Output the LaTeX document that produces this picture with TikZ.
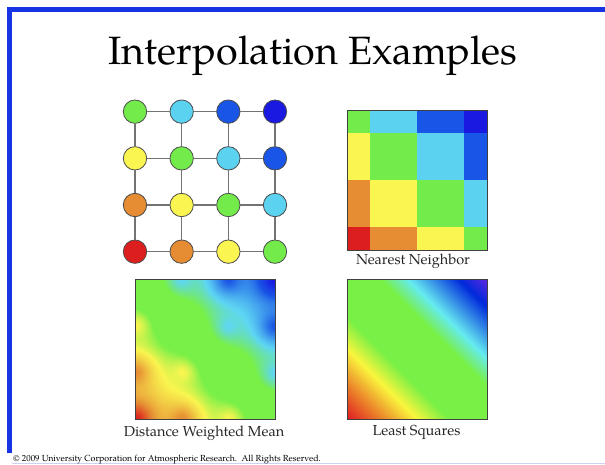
\documentclass[tikz,border=0pt]{standalone}
\usepackage{fontspec}
\setmainfont{TeX Gyre Pagella}
\definecolor{frameblue}{RGB}{22,52,228}
\definecolor{framelight}{RGB}{205,210,245}
\definecolor{k0}{HTML}{DC1E1E}
\definecolor{k1}{HTML}{E68C32}
\definecolor{k2}{HTML}{FAF550}
\definecolor{k3}{HTML}{73EB4B}
\definecolor{k4}{HTML}{5AD2F0}
\definecolor{k5}{HTML}{1955E6}
\definecolor{k6}{HTML}{1919E1}
% inverse distance weighted term: c r S T -> c r S' T'
\def\idwterm#1#2#3{3 index #1 sub dup mul 3 index #2 sub dup mul add 0.000001 add 0.9 exp 1 exch div dup #3 mul 3 -1 roll add 3 1 roll add exch }
\pgfdeclarefunctionalshading{idw}{\pgfpointorigin}{\pgfpoint{100bp}{100bp}}{}{
  75 exch sub 0.06 mul exch 25 sub 0.06 mul exch
  0 0
  \idwterm{0}{0}{3}\idwterm{1}{0}{4}\idwterm{2}{0}{5}\idwterm{3}{0}{6}
  \idwterm{0}{1}{2}\idwterm{1}{1}{3}\idwterm{2}{1}{4}\idwterm{3}{1}{5}
  \idwterm{0}{2}{1}\idwterm{1}{2}{2}\idwterm{2}{2}{3}\idwterm{3}{2}{4}
  \idwterm{0}{3}{0}\idwterm{1}{3}{1}\idwterm{2}{3}{2}\idwterm{3}{3}{3}
  exch div 3 1 roll pop pop
  dup 2.5 lt {
    dup 1 lt { dup 0.04 mul 0.86 add exch dup 0.43 mul 0.12 add exch 0.08 mul 0.12 add }
    { dup 2 lt { 1 sub dup 0.08 mul 0.90 add exch dup 0.41 mul 0.55 add exch 0.11 mul 0.20 add }
      { 2 sub 2 mul dup -0.51 mul 0.98 add exch dup -0.02 mul 0.96 add exch -0.03 mul 0.31 add } ifelse } ifelse
  } {
    dup 3.45 lt { pop 0.47 0.94 0.28 }
    { dup 4 lt { 3.45 sub 1.8182 mul dup -0.10 mul 0.47 add exch dup -0.10 mul 0.94 add exch 0.67 mul 0.28 add }
      { dup 5 lt { 4 sub dup -0.27 mul 0.37 add exch dup -0.51 mul 0.84 add exch -0.05 mul 0.95 add }
        { 5 sub dup 0 mul 0.10 add exch dup -0.23 mul 0.33 add exch -0.02 mul 0.90 add } ifelse } ifelse } ifelse
  } ifelse
}
\pgfdeclarefunctionalshading{lsq}{\pgfpointorigin}{\pgfpoint{100bp}{100bp}}{}{
  add 100 sub 0.06 mul 3 add
  dup 2.2 lt {
    dup 0.75 lt { 1.3333 mul dup 0.04 mul 0.88 add exch dup 0.41 mul 0.10 add exch 0.02 mul 0.14 add }
    { dup 1.5 lt { 0.75 sub 1.3333 mul dup 0.06 mul 0.92 add exch dup 0.45 mul 0.51 add exch 0.08 mul 0.16 add }
      { 1.5 sub 1.4286 mul dup -0.51 mul 0.98 add exch dup -0.02 mul 0.96 add exch 0.03 mul 0.24 add } ifelse } ifelse
  } {
    dup 3.7 lt { pop 0.47 0.94 0.27 }
    { dup 4.3 lt { 3.7 sub 1.6667 mul dup -0.07 mul 0.47 add exch dup -0.02 mul 0.94 add exch 0.67 mul 0.27 add }
      { dup 5.4 lt { 4.3 sub 0.9091 mul dup -0.40 mul 0.40 add exch dup -0.76 mul 0.92 add exch -0.08 mul 0.94 add }
        { 5.4 sub 1.6667 mul dup 0.38 mul 0.00 add exch dup 0.00 mul 0.16 add exch 0.01 mul 0.86 add } ifelse } ifelse } ifelse
  } ifelse
}
\tikzset{
  dot/.style={circle, draw=black!70, line width=0.8pt, minimum size=23.4pt, inner sep=0pt},
  link/.style={draw=black!55, line width=1.2pt},
  panel/.style={draw=black!75, line width=0.8pt, minimum size=140pt, inner sep=0pt, outer sep=0pt},
  lbl/.style={anchor=base, font=\fontsize{14.5}{16}\selectfont, text=black!85},
}
\begin{document}
\begin{tikzpicture}[x=1pt, y=-1pt]
\useasboundingbox (0,0) rectangle (605,465);
\fill[white] (0,0) rectangle (605,465);
% frame
\draw[frameblue, line width=4.5pt] (9.5,453) -- (9.5,9.5) -- (605,9.5);
\draw[framelight, line width=1.5pt] (12,463.5) -- (605,463.5);
% title
\node[anchor=base, font=\fontsize{39.5}{44}\selectfont] (title) at (313,65) {Interpolation Examples};
% sample points
\foreach \c in {0,...,3}{
  \foreach \r in {0,...,3}{
    \pgfmathtruncatemacro\k{\c-\r+3}
    \node[dot, fill=k\k] (p\c\r) at ({135+46.667*\c},{111.667+46.667*\r}) {};
  }
}
\foreach \c in {0,...,3}{
  \foreach \r/\rn in {0/1,1/2,2/3}{
    \draw[link] (p\c\r) -- (p\c\rn);
    \draw[link] (p\r\c) -- (p\rn\c);
  }
}
% nearest neighbour
\foreach \c in {0,...,3}{
  \foreach \r in {0,...,3}{
    \pgfmathtruncatemacro\k{\c-\r+3}
    \pgfmathsetmacro\xa{347+140*max(0,(2*\c-1)/6)}
    \pgfmathsetmacro\xb{347+140*min(1,(2*\c+1)/6)}
    \pgfmathsetmacro\ya{110+140*max(0,(2*\r-1)/6)}
    \pgfmathsetmacro\yb{110+140*min(1,(2*\r+1)/6)}
    \fill[k\k] (\xa,\ya) rectangle (\xb,\yb);
  }
}
\node[panel] (nn) at (417,180) {};
\node[lbl] (lnn) at (413,265) {Nearest Neighbor};
% distance weighted mean
\node[panel, shade, shading=idw] (dwm) at (205,349) {};
\node[lbl] (ldwm) at (204,436) {Distance Weighted Mean};
% least squares
\node[panel, shade, shading=lsq] (ls) at (417,349) {};
\node[lbl] (lls) at (416.5,435) {Least Squares};
% copyright
\node[anchor=base west, inner sep=0pt, font=\fontsize{8.8}{10}\selectfont] (copy) at (13,461.5) {\textcopyright{} 2009 University Corporation for Atmospheric Research.\ \ All Rights Reserved.};
\end{tikzpicture}
\end{document}
